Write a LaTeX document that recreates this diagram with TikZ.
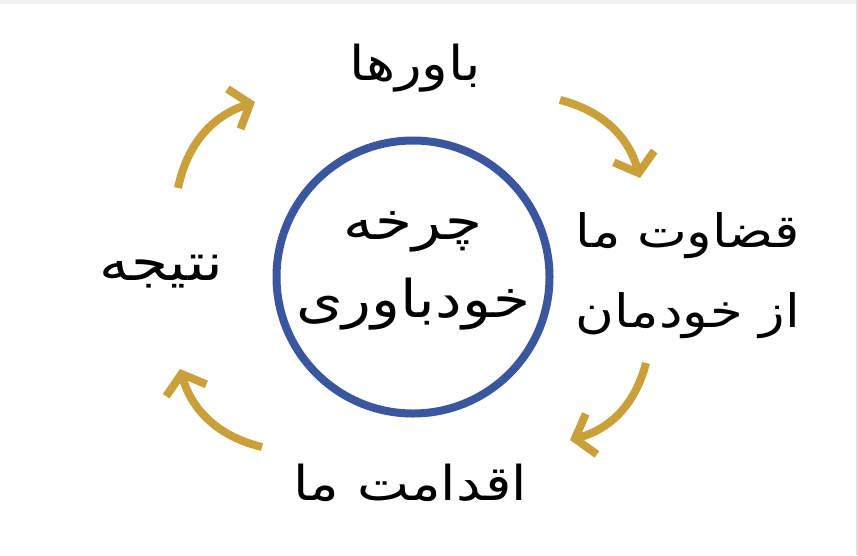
\documentclass[tikz,border=0pt]{standalone}
\usepackage{fontspec}
\newfontfamily\farsi[Script=Arabic, FakeStretch=1.15]{DejaVu Sans}
\TeXXeTstate=1
\usetikzlibrary{arrows.meta}
\definecolor{ringblue}{RGB}{58,86,158}
\definecolor{arrowgold}{RGB}{201,160,58}
\tikzset{word/.style={font=\farsi\fontsize{48}{80}\selectfont, inner sep=0pt},
  cyc/.style={arrowgold, line width=8pt, -{Straight Barb[length=17pt,width=42pt]}}}

\begin{document}
\begin{tikzpicture}[x=1pt,y=-1pt]
\useasboundingbox (0,0) rectangle (858,555);
\fill[white] (0,0) rectangle (858,555);
\fill[black!6] (0,0) rectangle (858,4);
\fill[black!13] (856,0) rectangle (858,555);
\node[circle, draw=ringblue, line width=8pt, minimum size=273pt] (ring) at (413,277) {};
\node[word, font=\farsi\fontsize{52}{78}\selectfont, align=center] (core) at (413,271) {\beginR چرخه\endR\\\beginR خودباوری\endR};
\node[word] (beliefs) at (415,68) {\beginR باورها\endR};
\node[word, font=\farsi\fontsize{46}{80}\selectfont, align=right, anchor=east] (judge) at (800,276) {\beginR قضاوت ما\endR\\\beginR از خودمان\endR};
\node[word] (action) at (410,483) {\beginR اقدامت ما\endR};
\node[word, font=\farsi\fontsize{52}{80}\selectfont] (result) at (161,272) {\beginR نتیجه\endR};
% arrow ends
\coordinate (a1) at (178,188); \coordinate (b1) at (255,102);
\coordinate (a2) at (560,100); \coordinate (b2) at (640,178);
\coordinate (a3) at (646,363); \coordinate (b3) at (570,440);
\coordinate (a4) at (262,447); \coordinate (b4) at (180,369);
\draw[cyc] (a1) to[bend left=30] (b1);
\draw[cyc] (a2) to[bend left=30] (b2);
\draw[cyc] (a3) to[bend left=30] (b3);
\draw[cyc] (a4) to[bend left=30] (b4);
\end{tikzpicture}
\end{document}
